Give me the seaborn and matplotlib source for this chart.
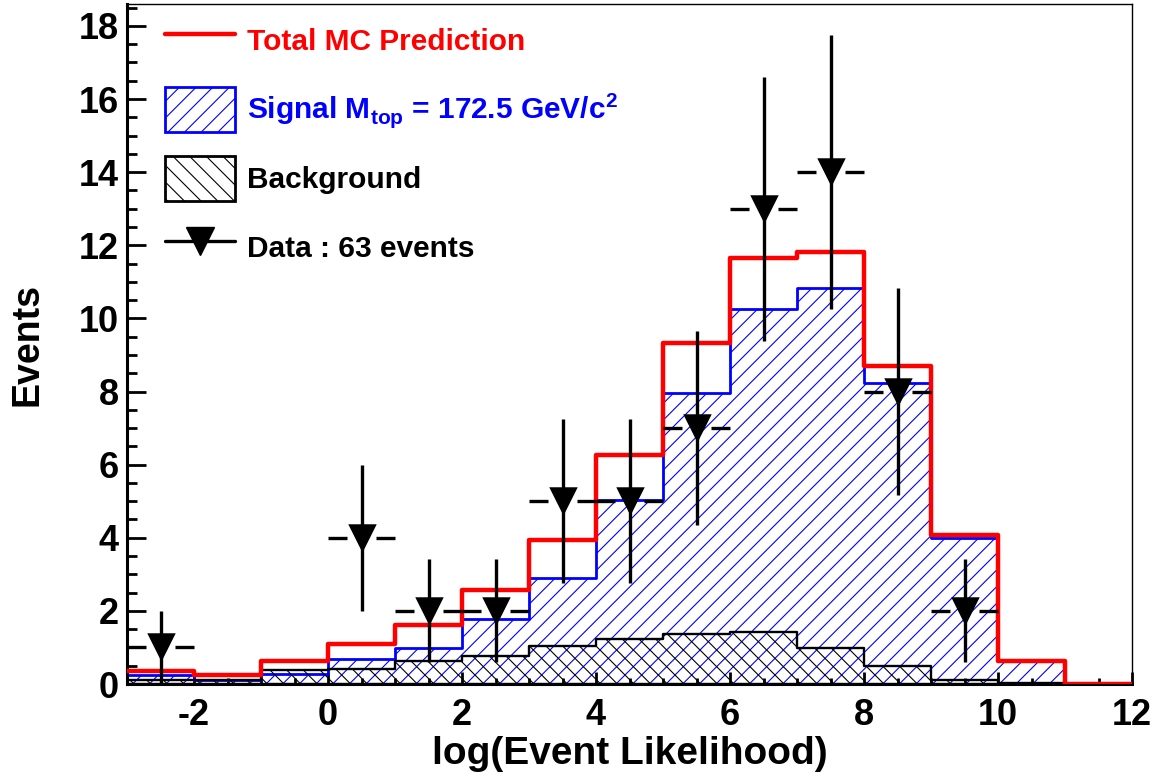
import numpy as np
import pandas as pd
import seaborn as sns
import matplotlib.pyplot as plt
from matplotlib.lines import Line2D
from matplotlib.patches import Patch
from matplotlib.ticker import MultipleLocator

# bin edges of log(Event Likelihood), width 1 from -3 to 12
edges = list(range(-3, 13))
centers = [e + 0.5 for e in edges[:-1]]

# signal (Mtop = 172.5) and background expectations per bin
signal = [0.24, 0.12, 0.27, 0.68, 0.98, 1.79, 2.91, 5.03, 7.97, 10.25, 10.84, 8.22, 3.98, 0.62, 0.0]
background = [0.12, 0.12, 0.37, 0.42, 0.64, 0.77, 1.03, 1.23, 1.37, 1.41, 0.98, 0.48, 0.10, 0.02, 0.0]
total = [s + b for s, b in zip(signal, background)]

# data: 63 events
data_counts = [1, 0, 0, 4, 2, 2, 5, 5, 7, 13, 14, 8, 2, 0, 0]
data_err = [1.0, 0, 0, 2.0, 1.41, 1.41, 2.24, 2.24, 2.65, 3.61, 3.74, 2.83, 1.41, 0, 0]

df = pd.DataFrame({'x': centers, 'sig': signal, 'bkg': background, 'tot': total,
                   'n': data_counts, 'err': data_err})
dfd = df[df['n'] > 0]

sns.set_style('ticks')
plt.rcParams['font.family'] = ['Liberation Sans', 'DejaVu Sans']
plt.rcParams['font.weight'] = 'bold'
plt.rcParams['mathtext.fontset'] = 'custom'
plt.rcParams['mathtext.rm'] = 'Liberation Sans:bold'
plt.rcParams['mathtext.bf'] = 'Liberation Sans:bold'
plt.rcParams['axes.unicode_minus'] = False
plt.rcParams['hatch.linewidth'] = 0.8
for k in ['text.color', 'axes.labelcolor', 'xtick.color', 'ytick.color', 'axes.edgecolor']:
    plt.rcParams[k] = 'black'

fig = plt.figure(figsize=(11.62, 7.76), dpi=100)
ax = fig.add_axes([127 / 1162, 1 - 684 / 776, 1005 / 1162, 680 / 776])

# signal, hatched blue
plt.rcParams['hatch.color'] = 'blue'
sns.histplot(data=df, x='x', weights='sig', bins=edges, element='step', fill=True,
             color='blue', facecolor='none', edgecolor='blue', hatch='//', linewidth=2.0,
             ax=ax, zorder=2)

# background, hatched black
plt.rcParams['hatch.color'] = 'black'
sns.histplot(data=df, x='x', weights='bkg', bins=edges, element='step', fill=True,
             color='black', facecolor='none', edgecolor='black', hatch='\\\\', linewidth=1.7,
             ax=ax, zorder=3)

# total MC prediction
sns.histplot(data=df, x='x', weights='tot', bins=edges, element='step', fill=False,
             color='red', linewidth=3.2, ax=ax, zorder=4)

# data points with error bars
ax.errorbar(dfd['x'], dfd['n'], yerr=dfd['err'], fmt='none', ecolor='black',
            elinewidth=2.4, capsize=0, zorder=5)
gap = 0.21
ax.hlines(dfd['n'], dfd['x'] - 0.5, dfd['x'] - gap, color='black', linewidth=2.4, zorder=5)
ax.hlines(dfd['n'], dfd['x'] + gap, dfd['x'] + 0.5, color='black', linewidth=2.4, zorder=5)
sns.scatterplot(data=dfd, x='x', y='n', marker='v', s=420, color='black',
                linewidth=0, ax=ax, zorder=6, legend=False)

ax.set_xlim(-3, 12)
ax.set_ylim(0, 18.6)
ax.xaxis.set_major_locator(MultipleLocator(2))
ax.xaxis.set_minor_locator(MultipleLocator(0.5))
ax.yaxis.set_major_locator(MultipleLocator(2))
ax.yaxis.set_minor_locator(MultipleLocator(0.5))
ax.tick_params(axis='both', which='both', direction='in', top=False, right=False, width=2)
ax.tick_params(axis='y', which='major', length=14, labelsize=26, pad=6)
ax.tick_params(axis='y', which='minor', length=7)
ax.tick_params(axis='x', which='major', length=9, labelsize=26, pad=10)
ax.tick_params(axis='x', which='minor', length=4.5)
for s in ['left', 'bottom']:
    ax.spines[s].set_linewidth(2.2)
for s in ['top', 'right']:
    ax.spines[s].set_linewidth(1.0)

ax.set_xlabel('log(Event Likelihood)', fontsize=28, fontweight='bold')
ax.set_ylabel('Events', fontsize=27, fontweight='bold')
ax.xaxis.set_label_coords(0.5, -0.076)
ax.yaxis.set_label_coords(-0.081, 0.5)

handles = [
    Line2D([], [], color='red', linewidth=3.2),
    Patch(facecolor='white', edgecolor='blue', hatch='//', linewidth=2.0),
    Patch(facecolor='white', edgecolor='black', hatch='\\\\', linewidth=2.0),
    Line2D([], [], color='black', linewidth=2.4, marker='v', markersize=20),
]
labels = ['Total MC Prediction',
          r'Signal M$_{\mathbf{top}}$ = 172.5 GeV/c$^{\mathbf{2}}$',
          'Background',
          'Data : 63 events']
leg = ax.legend(handles, labels, loc='upper left', bbox_to_anchor=(38 / 1005, 1 - 14 / 680),
                frameon=False, fontsize=21.5, handlelength=2.35, handleheight=1.95,
                handletextpad=0.4, labelspacing=0.80, borderpad=0, borderaxespad=0)
for t, c in zip(leg.get_texts(), ['red', 'blue', 'black', 'black']):
    t.set_color(c)
    t.set_fontweight('bold')

fig.savefig('out.png', dpi=100)
